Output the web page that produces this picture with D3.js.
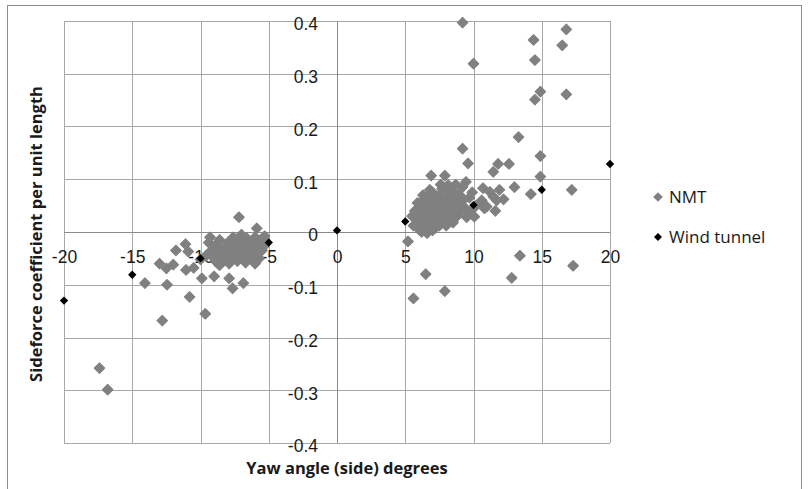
<!DOCTYPE html>
<head>
<meta charset="utf-8">
<style>
body {
  margin: 0;
  background: #fff;
  font-family: "Open Sans", "Liberation Sans", sans-serif;
}
.grid line {
  stroke: #a8a8a8;
  stroke-width: 1px;
  shape-rendering: crispEdges;
}
.zero {
  stroke: #8a8a8a;
  stroke-width: 1px;
  shape-rendering: crispEdges;
}
.tick text {
  font-size: 17.5px;
  fill: #1a1a1a;
}
.title {
  font-size: 16.5px;
  font-weight: bold;
  fill: #1a1a1a;
}
.legend text {
  font-size: 17px;
  fill: #1a1a1a;
}
</style>
</head>
<body>
<script src="https://cdnjs.cloudflare.com/ajax/libs/d3/7.8.5/d3.min.js"></script>
<script>
// ticks
var xTicks = [-20, -15, -10, -5, 0, 5, 10, 15, 20];
var yTicks = [-0.4, -0.3, -0.2, -0.1, 0, 0.1, 0.2, 0.3, 0.4];

// wind tunnel series
var windYaw  = [-20, -15, -10, -5, 0, 5, 10, 15, 20];
var windCoef = [-0.130, -0.081, -0.050, -0.020, 0.003, 0.020, 0.051, 0.080, 0.129];

// NMT series [yaw, coefficient]
var nmtPoints = [
  // right side, scattered
  [9.2,0.397],[10.0,0.319],[14.4,0.364],[16.8,0.384],[16.5,0.354],[14.5,0.326],
  [14.9,0.266],[14.5,0.251],[16.8,0.261],[13.3,0.180],[9.2,0.158],[14.9,0.144],
  [9.6,0.130],[11.8,0.129],[12.6,0.129],[11.45,0.114],[6.9,0.107],[7.9,0.107],
  [14.9,0.105],[9.45,0.095],[8.15,0.089],[13.0,0.085],[17.2,0.080],[14.2,0.072],
  [10.7,0.083],[11.9,0.080],[12.2,0.062],[11.45,0.067],[10.8,0.045],[11.6,0.040],
  [10.06,0.029],[11.2,0.076],[10.6,0.060],[10.97,0.048],[11.7,0.060],
  [5.2,-0.018],[13.4,-0.045],[17.3,-0.064],[6.5,-0.080],[12.8,-0.087],[7.9,-0.112],[5.6,-0.126],
  // right side, dense group
  [5.6,0.012],[5.8,0.025],[5.7,0.040],[6.0,0.005],[6.1,0.018],[6.0,0.032],[6.2,0.047],
  [6.3,0.060],[6.4,0.010],[6.5,0.028],[6.4,0.040],[6.6,0.052],[6.7,0.066],[6.8,0.015],
  [6.9,0.035],[7.0,0.048],[7.0,0.075],[7.1,0.022],[7.2,0.058],[7.3,0.040],[7.4,0.068],
  [7.5,0.012],[7.5,0.030],[7.6,0.050],[7.7,0.082],[7.8,0.038],[7.8,0.062],[7.9,0.022],
  [8.0,0.045],[8.1,0.070],[8.2,0.030],[8.3,0.055],[8.4,0.078],[8.5,0.040],[8.5,0.018],
  [8.6,0.062],[8.7,0.048],[8.8,0.030],[8.9,0.072],[9.0,0.055],[9.1,0.040],[9.2,0.085],
  [9.3,0.062],[9.4,0.045],[9.5,0.028],[9.7,0.065],[9.8,0.040],[10.2,0.050],[6.2,0.000],
  [6.6,-0.002],[7.0,0.003],[5.9,0.055],[6.8,0.080],[7.6,0.090],[8.7,0.090],[9.9,0.075],
  [8.0,0.012],[7.2,0.008],[6.3,0.070],[5.5,0.030],
  // left side, scattered
  [-7.18,0.028],[-5.88,0.007],[-11.1,-0.023],[-11.8,-0.035],[-10.9,-0.037],[-13.0,-0.060],
  [-12.0,-0.062],[-12.5,-0.069],[-11.06,-0.072],[-10.5,-0.068],[-10.0,-0.052],[-8.6,-0.063],
  [-9.9,-0.088],[-9.0,-0.084],[-7.9,-0.088],[-7.65,-0.107],[-6.86,-0.097],[-14.07,-0.097],
  [-12.45,-0.100],[-10.8,-0.123],[-9.65,-0.155],[-12.8,-0.168],[-17.4,-0.258],[-16.8,-0.299],
  // left side, dense group
  [-9.4,-0.020],[-9.2,-0.035],[-9.0,-0.050],[-8.9,-0.025],[-8.7,-0.040],[-8.6,-0.015],
  [-8.4,-0.055],[-8.3,-0.030],[-8.2,-0.045],[-8.0,-0.020],[-7.9,-0.060],[-7.8,-0.035],
  [-7.7,-0.050],[-7.6,-0.010],[-7.5,-0.028],[-7.4,-0.042],[-7.3,-0.055],[-7.2,-0.018],
  [-7.1,-0.035],[-7.0,-0.048],[-6.9,-0.025],[-6.8,-0.040],[-6.7,-0.058],[-6.6,-0.012],
  [-6.5,-0.030],[-6.4,-0.045],[-6.3,-0.020],[-6.2,-0.052],[-6.1,-0.035],[-6.0,-0.010],
  [-5.9,-0.042],[-5.8,-0.025],[-5.7,-0.050],[-5.6,-0.015],[-5.5,-0.035],[-5.4,-0.028],
  [-9.6,-0.045],[-8.8,-0.058],[-6.0,-0.060],[-7.0,-0.005],[-5.3,-0.008],[-9.3,-0.010]
];

var seriesNames = ["NMT", "Wind tunnel"];
var seriesColors = ["#808080", "#000000"];

var W = 808, H = 489,
    plot = {left: 64, right: 610, top: 21, bottom: 443};

var sx = d3.scaleLinear().domain([-20, 20]).range([plot.left, plot.right]);
var sy = d3.scaleLinear().domain([-0.4, 0.4]).range([plot.bottom, plot.top]);

var svg = d3.select("body").append("svg")
  .attr("width", W)
  .attr("height", H);

// outer chart frame
svg.append("rect")
  .attr("x", 7.5).attr("y", 5.5)
  .attr("width", 794).attr("height", 492)
  .attr("fill", "none")
  .attr("stroke", "#8c8c8c");

// gridlines
var grid = svg.append("g").attr("class", "grid");
grid.selectAll(".gx").data(xTicks).enter().append("line")
  .attr("x1", d => Math.round(sx(d)) + 0.5).attr("x2", d => Math.round(sx(d)) + 0.5)
  .attr("y1", plot.top).attr("y2", plot.bottom);
grid.selectAll(".gy").data(yTicks).enter().append("line")
  .attr("x1", plot.left).attr("x2", plot.right)
  .attr("y1", d => Math.round(sy(d)) + 0.5).attr("y2", d => Math.round(sy(d)) + 0.5);

// axes through zero
svg.append("line").attr("class", "zero")
  .attr("x1", Math.round(sx(0)) + 0.5).attr("x2", Math.round(sx(0)) + 0.5)
  .attr("y1", plot.top).attr("y2", plot.bottom);
svg.append("line").attr("class", "zero")
  .attr("x1", plot.left).attr("x2", plot.right)
  .attr("y1", Math.round(sy(0)) + 0.5).attr("y2", Math.round(sy(0)) + 0.5);

// plain hyphen minus, like the original
var fmt = d => String(+d.toFixed(1));

var yAxis = d3.axisLeft(sy).tickValues(yTicks).tickSize(0).tickPadding(19).tickFormat(fmt);
var gy = svg.append("g")
  .attr("transform", "translate(" + sx(0) + ",0)")
  .call(yAxis);
gy.select(".domain").remove();
gy.selectAll("text").attr("dy", "0.5em").attr("font-family", null);

var xAxis = d3.axisBottom(sx).tickValues(xTicks).tickSize(0).tickPadding(19).tickFormat(fmt);
var gx = svg.append("g")
  .attr("transform", "translate(0," + sy(0) + ")")
  .call(xAxis);
gx.select(".domain").remove();
gx.selectAll("text").attr("font-family", null);
svg.selectAll("g").filter(function() { return this.getAttribute("font-size"); })
  .attr("font-size", null);

// marker: rotated square
function diamond(s) {
  return "M0," + (-s) + "L" + s + ",0L0," + s + "L" + (-s) + ",0Z";
}

svg.append("g").selectAll("path").data(nmtPoints).enter().append("path")
  .attr("d", diamond(5.2))
  .attr("transform", d => "translate(" + sx(d[0]) + "," + sy(d[1]) + ")")
  .attr("fill", seriesColors[0])
  .attr("stroke", seriesColors[0])
  .attr("stroke-width", 1.2)
  .attr("stroke-linejoin", "round");

svg.append("g").selectAll("path").data(windYaw).enter().append("path")
  .attr("d", diamond(4.2))
  .attr("transform", (d, i) => "translate(" + sx(d) + "," + sy(windCoef[i]) + ")")
  .attr("fill", seriesColors[1]);

// axis titles
svg.append("text").attr("class", "title")
  .attr("x", 347).attr("y", 474)
  .attr("text-anchor", "middle")
  .text("Yaw angle (side) degrees");

svg.append("text").attr("class", "title")
  .attr("transform", "translate(42,234) rotate(-90)")
  .attr("text-anchor", "middle")
  .text("Sideforce coefficient per unit length");

// legend
var legend = svg.append("g").attr("class", "legend");
var lg = legend.selectAll("g").data(seriesNames).enter().append("g")
  .attr("transform", (d, i) => "translate(658," + (197 + i * 40) + ")");
lg.append("path")
  .attr("d", (d, i) => diamond(i === 0 ? 4.8 : 4))
  .attr("fill", (d, i) => seriesColors[i]);
lg.append("text")
  .attr("x", 11).attr("dy", "0.36em")
  .text(d => d);
</script>
</body>
